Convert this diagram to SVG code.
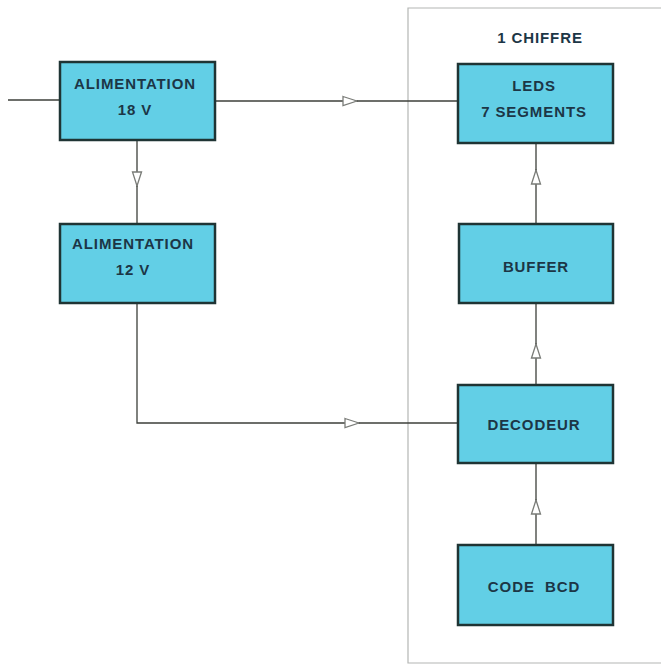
<svg xmlns="http://www.w3.org/2000/svg" width="661" height="666" viewBox="0 0 661 666">
<style>
.box{fill:#62cfe6;stroke:#1f3434;stroke-width:2.5}
.t{font-family:"Liberation Sans",Arial,sans-serif;font-weight:bold;font-size:15px;fill:#1c3646;text-anchor:middle;letter-spacing:0.9px;white-space:pre}
.w{fill:none;stroke:#3c3f3a;stroke-width:1.3}
.fr{fill:none;stroke:#b4b6b4;stroke-width:1.2}
</style>
<defs>
<marker id="ar" viewBox="0 0 16 12" refX="15" refY="6" markerWidth="16" markerHeight="12" markerUnits="userSpaceOnUse" orient="auto">
<path d="M1,1.5 L15,6 L1,10.5 Z" fill="#fff" stroke="#7a7c78" stroke-width="1.3"/>
</marker>
</defs>
<rect width="661" height="666" fill="#fff"/>
<path class="fr" d="M661,8 H408 V663 H661"/>
<text class="t" x="540" y="43">1 CHIFFRE</text>
<g id="connectors">
<path class="w" d="M8,100 H60"/>
<path class="w" d="M216,101 H357" marker-end="url(#ar)"/>
<path class="w" d="M357,101 H458"/>
<path class="w" d="M137,140 V186" marker-end="url(#ar)"/>
<path class="w" d="M137,186 V223"/>
<path class="w" d="M137,303 V423 H359" marker-end="url(#ar)"/>
<path class="w" d="M359,423 H458"/>
<path class="w" d="M536,545 V500" marker-end="url(#ar)"/>
<path class="w" d="M536,500 V463"/>
<path class="w" d="M536,385 V344" marker-end="url(#ar)"/>
<path class="w" d="M536,344 V303"/>
<path class="w" d="M536,224 V170" marker-end="url(#ar)"/>
<path class="w" d="M536,170 V143"/>
</g>
<g id="alim18">
<rect class="box" x="60" y="62" width="155" height="78"/>
<text class="t" x="135" y="89">ALIMENTATION</text>
<text class="t" x="135" y="115">18 V</text>
</g>
<g id="alim12">
<rect class="box" x="60" y="224" width="155" height="79"/>
<text class="t" x="133" y="249">ALIMENTATION</text>
<text class="t" x="133" y="275">12 V</text>
</g>
<g id="leds">
<rect class="box" x="458" y="64" width="155" height="79"/>
<text class="t" x="534" y="91">LEDS</text>
<text class="t" x="534" y="117">7 SEGMENTS</text>
</g>
<g id="buffer">
<rect class="box" x="459" y="224" width="154" height="79"/>
<text class="t" x="536" y="272">BUFFER</text>
</g>
<g id="decodeur">
<rect class="box" x="458" y="385" width="155" height="78"/>
<text class="t" x="534" y="430">DECODEUR</text>
</g>
<g id="bcd">
<rect class="box" x="458" y="545" width="155" height="80"/>
<text class="t" x="534" y="592" xml:space="preserve">CODE  BCD</text>
</g>
</svg>
